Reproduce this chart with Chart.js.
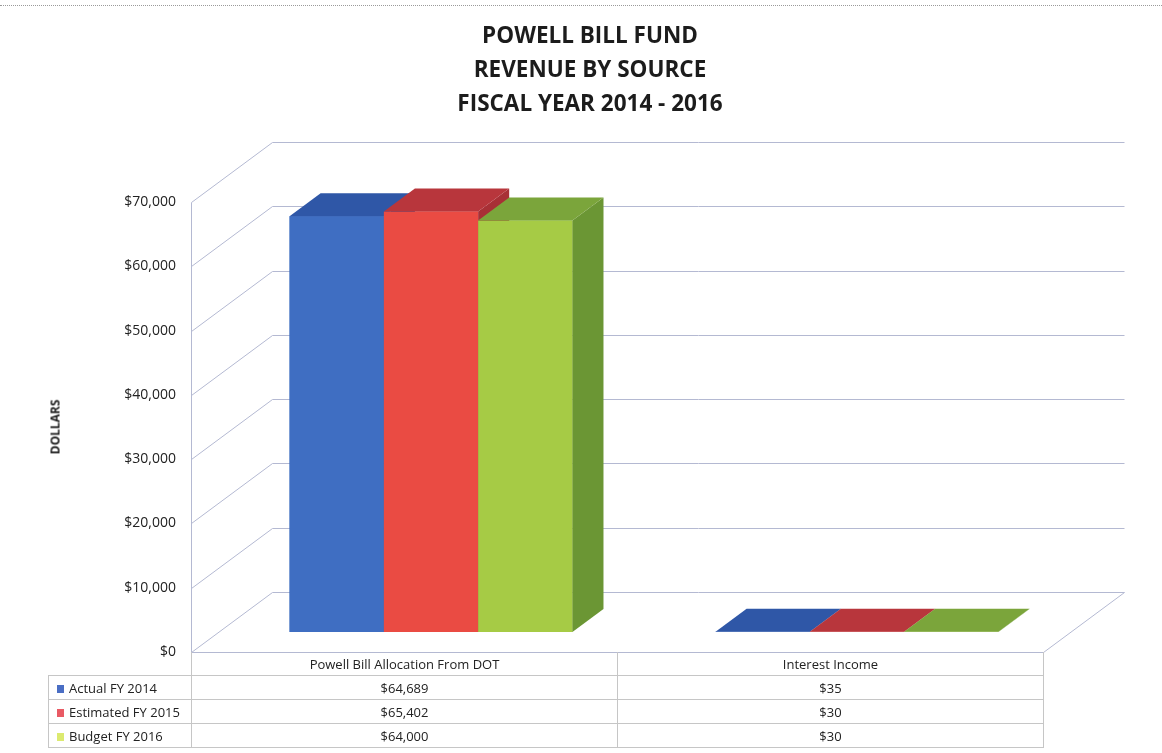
<!DOCTYPE html>
<html>
<head>
<meta charset="utf-8">
<script src="https://cdn.jsdelivr.net/npm/chart.js@4.4.1/dist/chart.umd.min.js"></script>
<style>
  html, body { margin: 0; padding: 0; background: #fff; }
  #wrap { position: relative; width: 1162px; height: 753px; overflow: hidden; font-family: 'Open Sans', sans-serif; color: #222; }
  #chart { position: absolute; left: 0; top: 0; }
  #frameTop { position: absolute; left: 0; top: 5px; width: 1162px; border-top: 1px dotted #9a9a9a; }
  #title { position: absolute; left: 0; top: 18px; width: 1180px; text-align: center; font-weight: 700; font-size: 22.5px; line-height: 34px; color: #1c1c1c; }
  #yTitle { position: absolute; left: 55px; top: 427px; transform: translate(-50%, -50%) rotate(-90deg); font-weight: 700; font-size: 12px; white-space: nowrap; color: #1c1c1c; }
  #dataTable { position: absolute; left: 48px; top: 652px; border-collapse: collapse; table-layout: fixed; font-size: 13px; }
  #dataTable td { height: 23px; padding: 0; line-height: 22px; text-align: center; border: 1px solid #c6c6c6; white-space: nowrap; }
  #dataTable tr:first-child td { border-top: none; }
  #dataTable td.corner { border: none; border-right: 1px solid #c6c6c6; }
  #dataTable td.key { text-align: left; padding-left: 8px; }
  .sw { display: inline-block; width: 7px; height: 8px; margin-right: 5px; }
</style>
</head>
<body>
<div id="wrap">
  <div id="frameTop"></div>
  <canvas id="chart" width="1162" height="753"></canvas>
  <div id="title">POWELL BILL FUND<br>REVENUE BY SOURCE<br>FISCAL YEAR 2014 - 2016</div>
  <div id="yTitle">DOLLARS</div>
  <table id="dataTable">
    <colgroup><col style="width:143px"><col style="width:426px"><col style="width:426px"></colgroup>
    <tbody id="tableBody"></tbody>
  </table>
</div>
<script>
// ── DATA ─────────────────────────────────────────────────────────────────────
const CATEGORIES = ['Powell Bill Allocation From DOT', 'Interest Income'];
const SERIES_NAMES = ['Actual FY 2014', 'Estimated FY 2015', 'Budget FY 2016'];
const ACTUAL_FY2014 = [64689, 35];
const ESTIMATED_FY2015 = [65402, 30];
const BUDGET_FY2016 = [64000, 30];
const DOLLAR_TICKS = [0, 10000, 20000, 30000, 40000, 50000, 60000, 70000];

// ── LOOK ─────────────────────────────────────────────────────────────────────
const FACES = [
  { front: '#3f6ec2', top: '#2f57a7', side: '#2a4c92' },
  { front: '#ea4b43', top: '#b8363c', side: '#a83036' },
  { front: '#a6cb45', top: '#7ba53b', side: '#6b9634' },
];
const KEY_COLORS = ['#4a6ec4', '#e95a64', '#dcea70'];
const GRID = '#b4b9d2';

// 3D box: back wall sits DEPTH_X right / DEPTH_Y up from the front plane,
// bars occupy the slice between BAR_NEAR and BAR_FAR of that depth.
const DEPTH_X = 81, DEPTH_Y = 60;
const BAR_NEAR = 20 / 60, BAR_FAR = 43 / 60;
const NEAR_DX = DEPTH_X * BAR_NEAR, NEAR_DY = DEPTH_Y * BAR_NEAR;

// chart area: top = back wall top (70k), bottom = front floor edge ($0)
const AREA_TOP = 142, AREA_BOTTOM = 652, FRONT_SPAN = 450; // px for 0..70k
const UNITS_PER_PX = DOLLAR_TICKS[DOLLAR_TICKS.length - 1] / FRONT_SPAN;
const FRONT_MAX = (AREA_BOTTOM - AREA_TOP) * UNITS_PER_PX;

const money = v => '$' + v.toLocaleString('en-US');

// ── TABLE ────────────────────────────────────────────────────────────────────
const SERIES_VALUES = [ACTUAL_FY2014, ESTIMATED_FY2015, BUDGET_FY2016];
let rows = '<tr><td class="corner"></td>' + CATEGORIES.map(c => `<td>${c}</td>`).join('') + '</tr>';
SERIES_NAMES.forEach((name, i) => {
  rows += `<tr><td class="key"><span class="sw" style="background:${KEY_COLORS[i]}"></span>${name}</td>`
    + SERIES_VALUES[i].map(v => `<td>${money(v)}</td>`).join('') + '</tr>';
});
document.getElementById('tableBody').innerHTML = rows;

// ── 3D PLUGIN ────────────────────────────────────────────────────────────────
const box3d = {
  id: 'box3d',
  beforeDatasetsDraw(chart) {
    const { ctx, chartArea: a, scales: { yFront, yBack } } = chart;
    const fl = Math.round(a.left - NEAR_DX) + 0.5, fr = Math.round(a.right - NEAR_DX) + 0.5;
    const bl = fl + DEPTH_X, br = fr + DEPTH_X;
    ctx.save();
    ctx.strokeStyle = GRID;
    ctx.lineWidth = 1;
    ctx.beginPath();
    DOLLAR_TICKS.forEach(v => {
      const yf = Math.round(yFront.getPixelForValue(v)) + 0.5;
      const yb = Math.round(yBack.getPixelForValue(v)) + 0.5;
      ctx.moveTo(fl, yf); ctx.lineTo(bl, yb); ctx.lineTo(br, yb);
    });
    const fTop = Math.round(yFront.getPixelForValue(DOLLAR_TICKS[DOLLAR_TICKS.length - 1])) + 0.5;
    const f0 = Math.round(yFront.getPixelForValue(0)) + 0.5;
    const b0 = Math.round(yBack.getPixelForValue(0)) + 0.5;
    ctx.moveTo(fl, fTop); ctx.lineTo(fl, f0); ctx.lineTo(fr, f0); ctx.lineTo(br, b0);
    ctx.stroke();
    ctx.restore();
  },
  // repaint every bar as a box, series left to right, so each neighbour covers the previous side face
  afterDatasetsDraw(chart) {
    const ctx = chart.ctx;
    const dx = DEPTH_X * (BAR_FAR - BAR_NEAR), dy = DEPTH_Y * (BAR_FAR - BAR_NEAR);
    ctx.save();
    CATEGORIES.forEach((_, ci) => {
      SERIES_NAMES.forEach((_, si) => {
        const bar = chart.getDatasetMeta(si).data[ci];
        if (!bar) return;
        const c = FACES[si];
        const { x, y, base, width } = bar.getProps(['x', 'y', 'base', 'width'], true);
        const l = x - width / 2, r = x + width / 2;
        ctx.fillStyle = c.front;
        ctx.fillRect(l, Math.min(y, base), width, Math.abs(base - y));
        ctx.fillStyle = c.side;
        ctx.beginPath();
        ctx.moveTo(r, y); ctx.lineTo(r + dx, y - dy); ctx.lineTo(r + dx, base - dy); ctx.lineTo(r, base);
        ctx.closePath(); ctx.fill();
        ctx.fillStyle = c.top;
        ctx.beginPath();
        ctx.moveTo(l, y); ctx.lineTo(r, y); ctx.lineTo(r + dx, y - dy); ctx.lineTo(l + dx, y - dy);
        ctx.closePath(); ctx.fill();
      });
    });
    ctx.restore();
  },
};

// ── CHART ────────────────────────────────────────────────────────────────────
const datasets = SERIES_NAMES.map((name, i) => ({
  label: name,
  data: SERIES_VALUES[i],
  backgroundColor: FACES[i].front,
  borderWidth: 0,
  xAxisID: 'x',
  yAxisID: 'yBar',
}));

new Chart(document.getElementById('chart'), {
  type: 'bar',
  data: { labels: CATEGORIES, datasets },
  plugins: [box3d],
  options: {
    responsive: false,
    animation: false,
    layout: { padding: { top: AREA_TOP, bottom: 753 - AREA_BOTTOM, left: 0, right: 92 } },
    categoryPercentage: 0.664,
    barPercentage: 1.0,
    plugins: { legend: { display: false }, tooltip: { enabled: false }, title: { display: false } },
    scales: {
      x: { type: 'category', display: false, grid: { display: false } },
      yFront: {
        axis: 'y', type: 'linear', position: 'left',
        min: 0, max: FRONT_MAX,
        afterBuildTicks: s => { s.ticks = DOLLAR_TICKS.map(v => ({ value: v })); },
        afterFit: s => { s.width = 218; },
        grid: { display: false, drawTicks: false },
        border: { display: false },
        ticks: { padding: 42, color: '#222', font: { family: 'Open Sans', size: 14 }, callback: v => money(v) },
      },
      yBar: {
        axis: 'y', type: 'linear', display: false,
        min: -NEAR_DY * UNITS_PER_PX, max: FRONT_MAX - NEAR_DY * UNITS_PER_PX,
      },
      yBack: {
        axis: 'y', type: 'linear', display: false,
        min: -DEPTH_Y * UNITS_PER_PX, max: FRONT_MAX - DEPTH_Y * UNITS_PER_PX,
      },
    },
  },
});
</script>
</body>
</html>
